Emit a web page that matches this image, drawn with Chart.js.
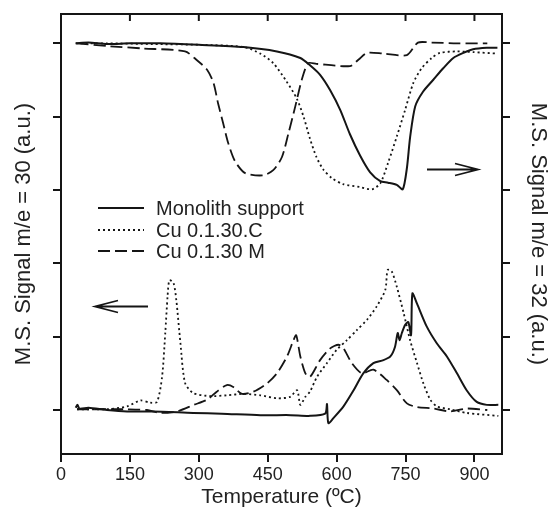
<!DOCTYPE html>
<html>
<head>
<meta charset="utf-8">
<script src="https://cdn.jsdelivr.net/npm/chart.js@4.4.1/dist/chart.umd.min.js"></script>
<style>
  html, body { margin: 0; padding: 0; background: #fff; }
  #wrap { width: 551px; height: 515px; }
</style>
</head>
<body>
<div id="wrap"><canvas id="tprChart" width="551" height="515"></canvas></div>
<script>
// temperature (ºC) and signal (a.u.)
var monolith32T = [32, 60, 100, 150, 216, 300, 397, 470, 521, 542, 564, 586, 608, 629, 651, 673, 695, 712, 731, 744, 753, 760, 771, 788, 810, 832, 854, 876, 897, 927, 950];
var monolith32V = [5.0, 5.01, 4.99, 5.0, 5.0, 4.98, 4.95, 4.89, 4.80, 4.70, 4.57, 4.36, 4.09, 3.76, 3.47, 3.24, 3.12, 3.10, 3.07, 3.01, 3.30, 3.72, 4.14, 4.34, 4.50, 4.66, 4.80, 4.87, 4.92, 4.94, 4.94];

var cuC32T = [32, 100, 200, 300, 397, 434, 462, 491, 513, 528, 542, 556, 571, 590, 614, 651, 677, 695, 712, 731, 749, 767, 785, 807, 825, 862, 897, 950];
var cuC32V = [5.0, 5.0, 4.99, 4.98, 4.95, 4.86, 4.73, 4.48, 4.25, 4.0, 3.70, 3.45, 3.28, 3.16, 3.08, 3.04, 3.01, 3.09, 3.37, 3.73, 4.09, 4.46, 4.66, 4.80, 4.87, 4.89, 4.88, 4.86];

var cuM32T = [34, 107, 179, 270, 296, 318, 332, 342, 353, 364, 379, 401, 440, 462, 481, 495, 510, 524, 538, 556, 629, 648, 666, 702, 753, 777, 807, 862, 928];
var cuM32V = [5.0, 4.96, 4.93, 4.89, 4.77, 4.64, 4.46, 4.18, 3.91, 3.64, 3.39, 3.23, 3.20, 3.27, 3.45, 3.77, 4.14, 4.50, 4.73, 4.72, 4.69, 4.78, 4.87, 4.86, 4.84, 5.01, 5.01, 5.0, 5.0];

var monolith30T = [32, 36, 40, 60, 100, 144, 200, 288, 350, 434, 500, 542, 575, 579, 582, 593, 615, 637, 658, 680, 702, 717, 727, 733, 737, 742, 749, 756, 762, 765, 775, 796, 818, 840, 862, 883, 905, 927, 952];
var monolith30V = [0.03, 0.07, 0.02, 0.03, 0.0, -0.02, -0.02, -0.04, -0.05, -0.07, -0.07, -0.08, -0.05, 0.08, -0.18, -0.11, 0.05, 0.27, 0.50, 0.64, 0.68, 0.73, 0.86, 1.05, 0.95, 1.05, 1.16, 1.20, 1.02, 1.59, 1.45, 1.14, 0.91, 0.73, 0.50, 0.27, 0.11, 0.07, 0.07];

var cuC30T = [35, 100, 144, 173, 194, 209, 220, 227, 232, 236, 245, 251, 260, 270, 288, 325, 361, 397, 434, 470, 499, 514, 521, 532, 542, 557, 579, 600, 622, 644, 666, 687, 706, 711, 720, 731, 746, 760, 775, 789, 804, 818, 847, 883, 952];
var cuC30V = [0.01, 0.01, 0.05, 0.13, 0.10, 0.11, 0.45, 1.05, 1.55, 1.77, 1.73, 1.50, 0.91, 0.37, 0.23, 0.19, 0.20, 0.22, 0.20, 0.16, 0.18, 0.27, 0.07, 0.18, 0.25, 0.45, 0.64, 0.82, 0.95, 1.09, 1.23, 1.41, 1.64, 1.91, 1.89, 1.68, 1.32, 0.95, 0.64, 0.36, 0.14, 0.05, 0.01, -0.04, -0.08];

var cuM30T = [35, 100, 144, 187, 216, 252, 289, 318, 339, 361, 376, 394, 419, 448, 470, 492, 506, 512, 521, 532, 542, 564, 586, 604, 615, 633, 655, 680, 709, 731, 753, 775, 811, 847, 883, 928];
var cuM30V = [0.01, 0.01, 0.01, 0.0, -0.04, -0.02, 0.07, 0.14, 0.25, 0.34, 0.31, 0.22, 0.25, 0.36, 0.50, 0.73, 0.95, 1.02, 0.73, 0.50, 0.45, 0.68, 0.84, 0.89, 0.84, 0.64, 0.50, 0.55, 0.41, 0.27, 0.09, 0.04, 0.02, -0.02, 0.02, 0.0];

var seriesNames = ['Monolith support', 'Cu 0.1.30.C', 'Cu 0.1.30 M'];
var xTicks = [0, 150, 300, 450, 600, 750, 900];
var yTicks = [0, 1, 2, 3, 4, 5];

var ink = '#151515';
var dashes = [[], [2, 3], [12, 5]];
var fontFam = "'Liberation Sans', Arial, sans-serif";

function pts(t, v) {
    return t.map(function(x, i) { return {x: x, y: v[i]}; });
}

function line(data, k, axis) {
    return {
        data: data,
        yAxisID: axis,
        borderColor: ink,
        borderWidth: k == 0 ? 2 : 1.8,
        borderDash: dashes[k],
        pointRadius: 0,
        tension: 0.25,
        fill: false
    };
}

// frame, inward top ticks, arrows, legend
var extras = {
    id: 'extras',
    afterDraw: function(chart) {
        var ctx = chart.ctx;
        var a = chart.chartArea;
        var xs = chart.scales.x;
        ctx.save();
        ctx.strokeStyle = ink;
        ctx.lineWidth = 2;
        ctx.setLineDash([]);
        ctx.strokeRect(a.left, a.top, a.right - a.left, a.bottom - a.top);

        xTicks.forEach(function(t) {
            if (t == 0) return;
            var px = xs.getPixelForValue(t);
            ctx.beginPath();
            ctx.moveTo(px, a.top);
            ctx.lineTo(px, a.top + 7);
            ctx.stroke();
        });

        function arrow(x0, x1, y) {
            var dir = x1 > x0 ? 1 : -1;
            ctx.beginPath();
            ctx.moveTo(x0, y);
            ctx.lineTo(x1, y);
            ctx.moveTo(x1 - dir * 23, y - 6);
            ctx.lineTo(x1, y);
            ctx.lineTo(x1 - dir * 23, y + 6);
            ctx.stroke();
        }
        ctx.lineWidth = 1.8;
        arrow(427, 478, 169.5);
        arrow(148, 95, 306.5);

        ctx.font = '20px ' + fontFam;
        ctx.fillStyle = '#222';
        ctx.textBaseline = 'middle';
        var rows = [208, 230, 251];
        seriesNames.forEach(function(name, k) {
            ctx.beginPath();
            ctx.lineWidth = k == 0 ? 2 : 1.8;
            ctx.setLineDash(dashes[k]);
            ctx.moveTo(98, rows[k]);
            ctx.lineTo(144, rows[k]);
            ctx.stroke();
            ctx.fillText(name, 156, rows[k] + 1);
        });
        ctx.restore();
    }
};

var yBase = {
    min: -0.6,
    max: 5.4,
    ticks: { display: false },
    afterBuildTicks: function(s) {
        s.ticks = yTicks.map(function(v) { return {value: v}; });
    },
    grid: { drawOnChartArea: false, drawTicks: true, tickLength: 8, color: ink, lineWidth: 2 },
    border: { display: false }
};

document.addEventListener('DOMContentLoaded', function() {
    var ctx = document.getElementById('tprChart').getContext('2d');

    var tprChart = new Chart(ctx, {
        type: 'line',
        data: {
            datasets: [
                line(pts(monolith32T, monolith32V), 0, 'y2'),
                line(pts(cuC32T, cuC32V), 1, 'y2'),
                line(pts(cuM32T, cuM32V), 2, 'y2'),
                line(pts(monolith30T, monolith30V), 0, 'y'),
                line(pts(cuC30T, cuC30V), 1, 'y'),
                line(pts(cuM30T, cuM30V), 2, 'y')
            ]
        },
        options: {
            responsive: false,
            animation: false,
            layout: { padding: { top: 14, left: 0, right: 0, bottom: 0 } },
            plugins: { legend: { display: false }, tooltip: { enabled: false } },
            scales: {
                x: {
                    type: 'linear',
                    min: 0,
                    max: 960,
                    afterBuildTicks: function(s) {
                        s.ticks = xTicks.map(function(v) { return {value: v}; });
                    },
                    ticks: {
                        padding: 2,
                        color: '#222',
                        font: { size: 18, family: fontFam }
                    },
                    grid: { drawOnChartArea: false, drawTicks: true, tickLength: 8, color: ink, lineWidth: 2 },
                    border: { display: false },
                    title: {
                        display: true,
                        text: 'Temperature (ºC)',
                        color: '#222',
                        font: { size: 21, family: fontFam },
                        padding: { top: 0, bottom: 5 }
                    },
                    afterFit: function(s) { s.height = 61; }
                },
                y: Object.assign({}, yBase, {
                    position: 'left',
                    title: {
                        display: true,
                        text: 'M.S. Signal m/e = 30 (a.u.)',
                        color: '#222',
                        font: { size: 22, family: fontFam },
                        padding: { top: 11, bottom: 0 }
                    },
                    afterFit: function(s) { s.width = 61; }
                }),
                y2: Object.assign({}, yBase, {
                    position: 'right',
                    title: {
                        display: true,
                        text: 'M.S. Signal m/e = 32 (a.u.)',
                        color: '#222',
                        font: { size: 22, family: fontFam },
                        padding: { top: 0, bottom: 0 }
                    },
                    afterFit: function(s) { s.width = 49; }
                })
            }
        },
        plugins: [extras]
    });
});
</script>
</body>
</html>
